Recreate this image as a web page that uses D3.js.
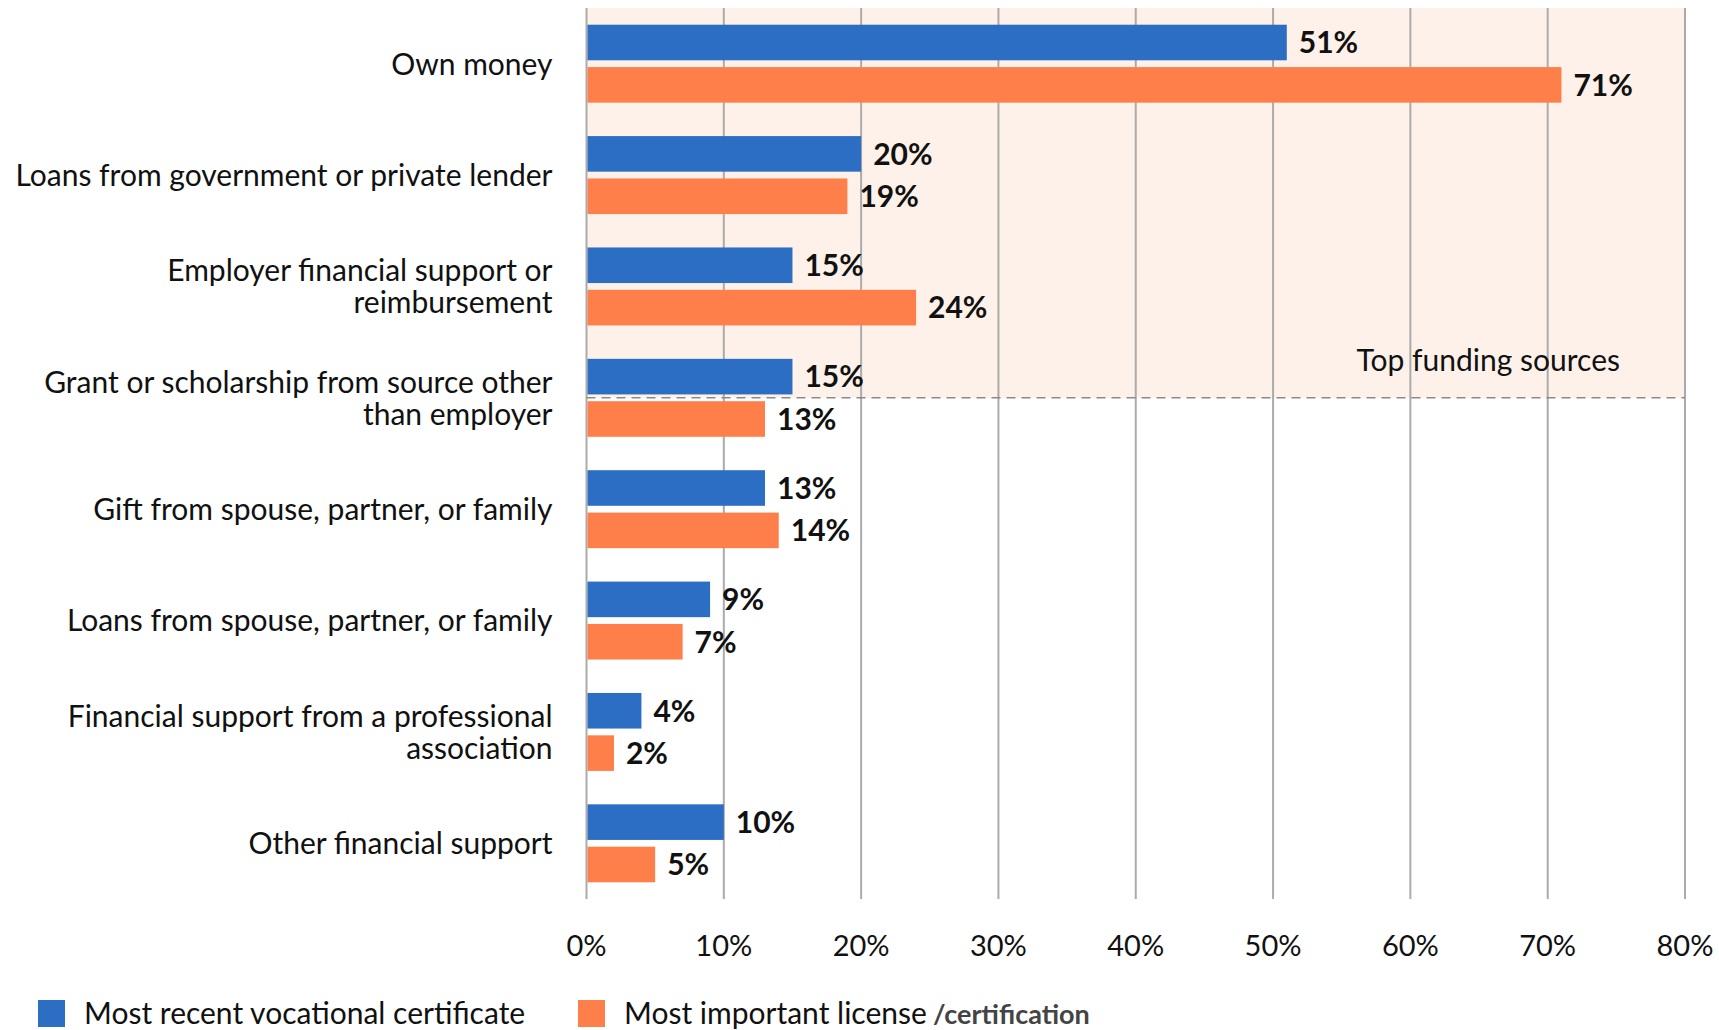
<!DOCTYPE html>
<html lang="en">
<head>
    <meta charset="UTF-8">
    <title>Funding sources</title>
    <script src="https://d3js.org/d3.v7.min.js"></script>
    <style>
        body { margin: 0; background: #fff; }
        svg { display: block; font-family: Lato, "Open Sans", sans-serif; }
        .cat { font-size: 30px; fill: #111; text-anchor: end; }
        .val { font-size: 30px; font-weight: bold; fill: #111; }
        .tick-lbl { font-size: 29px; fill: #111; text-anchor: middle; }
        .leg { font-size: 30px; fill: #111; }
    </style>
</head>
<body>
    <svg width="1719" height="1030"></svg>
    <script>
        const categories = [
            ["Own money"],
            ["Loans from government or private lender"],
            ["Employer financial support or", "reimbursement"],
            ["Grant or scholarship from source other", "than employer"],
            ["Gift from spouse, partner, or family"],
            ["Loans from spouse, partner, or family"],
            ["Financial support from a professional", "association"],
            ["Other financial support"]
        ];
        const recentCert = [51, 20, 15, 15, 13, 9, 4, 10];
        const importantLicense = [71, 19, 24, 13, 14, 7, 2, 5];
        const seriesNames = ["Most recent vocational certificate", "Most important license"];
        const seriesColors = ["#2b6ec3", "#ff7f4a"];
        const xTicks = [0, 10, 20, 30, 40, 50, 60, 70, 80];
        const topCount = 4; // first four categories are the "top funding sources"

        const svg = d3.select("svg");
        const plotL = 586.5, plotR = 1685, plotT = 8, plotB = 899;

        const keys = categories.map((c, i) => i);
        const x = d3.scaleLinear().domain([0, 80]).range([plotL, plotR]);
        const y = d3.scaleBand().domain(keys).range([plotT, plotB])
            .paddingInner(0.3).paddingOuter(0.15);
        const ySub = d3.scaleBand().domain([0, 1]).range([0, y.bandwidth()])
            .paddingInner(0.16);

        const rows = keys.map(i => ({ i, vals: [recentCert[i], importantLicense[i]] }));

        // shaded "top funding sources" area
        const cutY = y(topCount - 1) + ySub(0) + ySub.bandwidth() + (ySub.step() - ySub.bandwidth()) / 2;
        svg.append("rect")
            .attr("x", x(0)).attr("y", plotT)
            .attr("width", x(80) - x(0)).attr("height", cutY - plotT)
            .attr("fill", "#fef1e9");

        // gridlines
        svg.append("g").selectAll("line")
            .data(xTicks).enter().append("line")
            .attr("x1", d => x(d)).attr("x2", d => x(d))
            .attr("y1", plotT).attr("y2", plotB)
            .attr("stroke", "#ababab").attr("stroke-width", 2);

        svg.append("line")
            .attr("x1", x(0)).attr("x2", x(80))
            .attr("y1", cutY).attr("y2", cutY)
            .attr("stroke", "#8a8a8a").attr("stroke-width", 1.5)
            .attr("stroke-dasharray", "9,6");

        svg.append("text")
            .attr("x", x(80) - 65).attr("y", cutY - 27)
            .attr("text-anchor", "end")
            .attr("class", "leg")
            .text("Top funding sources");

        // bars
        const g = svg.append("g").selectAll("g")
            .data(rows).enter().append("g")
            .attr("transform", d => `translate(0,${y(d.i)})`);

        g.selectAll("rect")
            .data(d => d.vals.map((v, s) => ({ v, s })))
            .enter().append("rect")
            .attr("x", x(0) + 1)
            .attr("y", d => ySub(d.s))
            .attr("width", d => x(d.v) - x(0) - 1)
            .attr("height", ySub.bandwidth())
            .attr("fill", d => seriesColors[d.s]);

        g.selectAll(".val")
            .data(d => d.vals.map((v, s) => ({ v, s })))
            .enter().append("text")
            .attr("class", "val")
            .attr("x", d => x(d.v) + 12)
            .attr("y", d => ySub(d.s) + ySub.bandwidth() / 2)
            .attr("dy", "0.36em")
            .text(d => d.v + "%");

        // category labels
        const lineH = 32;
        svg.append("g").selectAll("text")
            .data(rows).enter().append("text")
            .attr("class", "cat")
            .attr("transform", d => `translate(${x(0) - 34},${y(d.i) + y.bandwidth() / 2})`)
            .each(function (d) {
                const lines = categories[d.i];
                const t = d3.select(this);
                lines.forEach((ln, k) => {
                    t.append("tspan")
                        .attr("x", 0)
                        .attr("y", (k - (lines.length - 1) / 2) * lineH)
                        .attr("dy", "0.36em")
                        .text(ln);
                });
            });

        // x tick labels
        svg.append("g").selectAll("text")
            .data(xTicks).enter().append("text")
            .attr("class", "tick-lbl")
            .attr("x", d => x(d)).attr("y", 956)
            .text(d => d + "%");

        // legend
        const legX = [38, 578];
        const leg = svg.append("g").selectAll("g")
            .data(seriesNames).enter().append("g")
            .attr("transform", (d, s) => `translate(${legX[s]},1000)`);
        leg.append("rect")
            .attr("width", 27).attr("height", 27)
            .attr("fill", (d, s) => seriesColors[s]);
        leg.append("text")
            .attr("class", "leg")
            .attr("x", 46).attr("y", 24)
            .text(d => d);
        svg.append("text")
            .attr("x", 933).attr("y", 1024)
            .attr("font-size", 27).attr("font-weight", "bold").attr("fill", "#444")
            .text("/certification");
    </script>
</body>
</html>
